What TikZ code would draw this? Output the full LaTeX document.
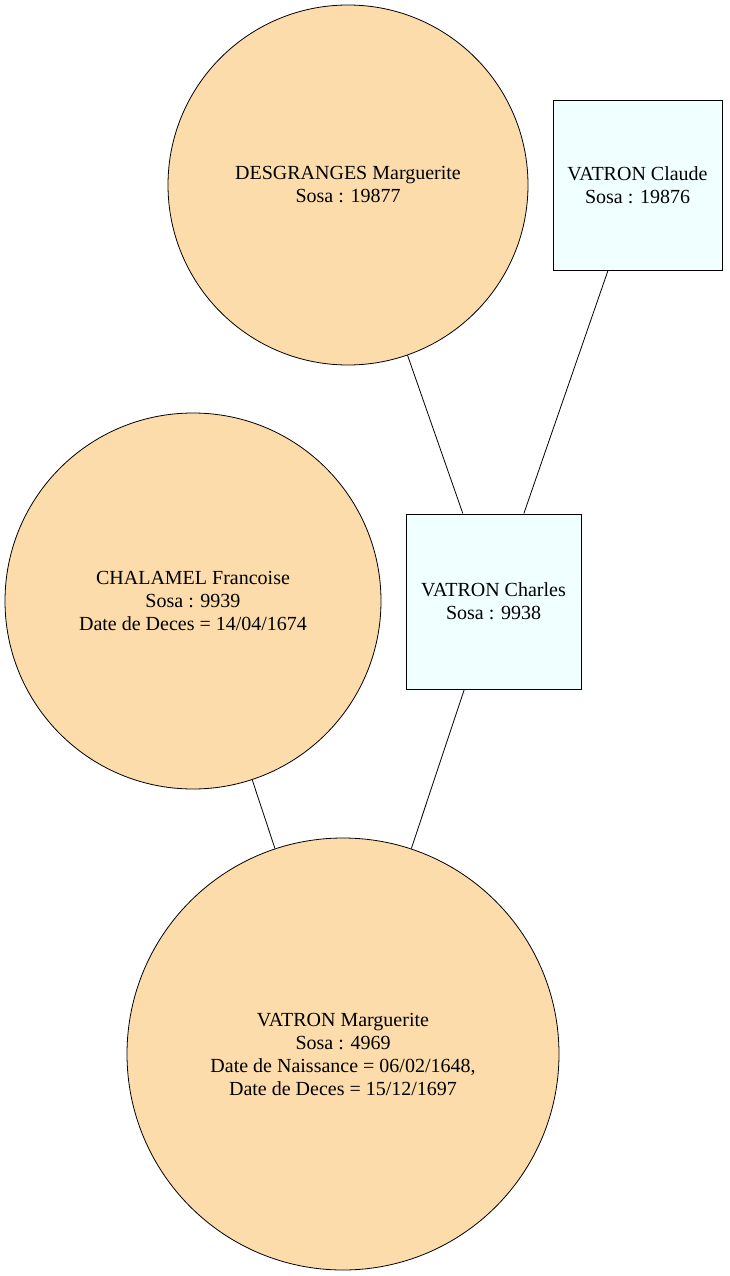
\documentclass[tikz,border=0pt]{standalone}
\usepackage{fontspec}
\setmainfont{Liberation Serif}
\definecolor{circfill}{HTML}{FDDCAC}
\definecolor{boxfill}{HTML}{F0FFFF}
\begin{document}
\begin{tikzpicture}[x=1pt,y=-1pt,
  person/.style={draw=black, line width=0.8pt, fill=circfill, circle, inner sep=0pt, align=center,
     font=\fontsize{20}{23}\selectfont},
  male/.style={draw=black, line width=0.8pt, fill=boxfill, rectangle, inner sep=0pt, align=center,
     font=\fontsize{20}{23}\selectfont},
  link/.style={draw=black, line width=0.8pt}]
\useasboundingbox (0,0) rectangle (729,1276);
\node[person, minimum size=360pt] (desg) at (348,185) {DESGRANGES Marguerite\\Sosa : 19877};
\node[male, minimum width=169pt, minimum height=170pt] (claude) at (637.5,185) {VATRON Claude\\Sosa : 19876};
\node[person, minimum size=376pt] (chal) at (193,601) {CHALAMEL Francoise\\Sosa : 9939\\Date de Deces = 14/04/1674};
\node[male, minimum width=175pt, minimum height=175pt] (charles) at (493.5,601.5) {VATRON Charles\\Sosa : 9938};
\node[person, minimum size=432pt] (marg) at (343,1054) {VATRON Marguerite\\Sosa : 4969\\Date de Naissance = 06/02/1648,\\Date de Deces = 15/12/1697};
\draw[link] (desg) -- (charles);
\draw[link] (claude) -- (charles);
\draw[link] (chal) -- (marg);
\draw[link] (charles) -- (marg);
\end{tikzpicture}
\end{document}
